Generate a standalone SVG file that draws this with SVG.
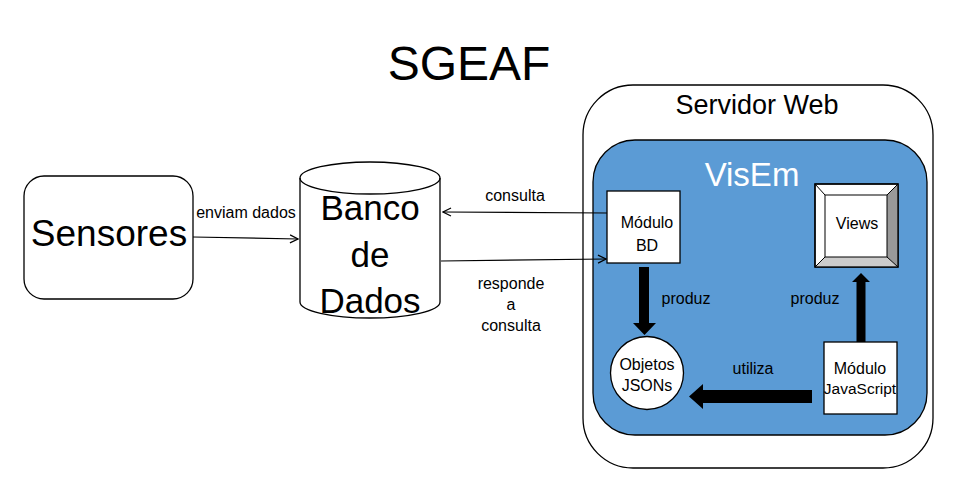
<svg xmlns="http://www.w3.org/2000/svg" width="954" height="493" viewBox="0 0 954 493">
<defs>
<marker id="open" viewBox="0 0 10 10" refX="9" refY="5" markerWidth="10" markerHeight="10" markerUnits="userSpaceOnUse" orient="auto">
<path d="M1,1 L9,5 L1,9" fill="none" stroke="#000" stroke-width="1.2"/>
</marker>
<style>
text{font-family:"Liberation Sans",Arial,sans-serif;fill:#000;text-anchor:middle}
.sm{font-size:16px}
.ln{fill:none;stroke:#000;stroke-width:1.2}
.box{fill:#fff;stroke:#000;stroke-width:1.3}
.thick{fill:#000}
</style>
</defs>
<rect width="954" height="493" fill="#fff"/>
<text x="469" y="80" style="font-size:48px">SGEAF</text>

<g id="sensores">
<rect x="24" y="176" width="169" height="123" rx="20" class="box"/>
<text x="109" y="246" style="font-size:37px">Sensores</text>
</g>

<g id="banco">
<path d="M300,178 L300,302 A70,16 0 0 0 440,302 L440,178 A70,16 0 0 0 300,178 Z" class="box"/>
<path d="M300,178 A70,16 0 0 0 440,178" fill="none" stroke="#000" stroke-width="1.3"/>
<text x="370" y="220" style="font-size:35px">Banco</text>
<text x="370" y="267" style="font-size:35px">de</text>
<text x="370" y="313" style="font-size:35px">Dados</text>
</g>

<g id="servidor">
<rect x="583" y="85" width="350" height="383" rx="50" class="box"/>
<text x="757" y="114" style="font-size:27px">Servidor Web</text>
</g>

<g id="visem">
<rect x="593" y="140" width="334" height="295" rx="42" fill="#5B9BD5" stroke="#000" stroke-width="1.3"/>
<text x="752" y="186" style="font-size:33px;fill:#fff">VisEm</text>
</g>

<g id="modulo-bd">
<rect x="607" y="191" width="73" height="72" class="box"/>
<text x="647" y="228" class="sm">Módulo</text>
<text x="647" y="251" class="sm">BD</text>
</g>

<g id="views">
<rect x="815" y="184" width="83" height="83" fill="#fff" stroke="#000" stroke-width="1.3"/>
<polygon points="887,195 898,184 898,267 887,257" fill="#999"/>
<polygon points="825,257 887,257 898,267 815,267" fill="#ccc"/>
<path d="M815,184 L825,195 M898,184 L887,195 M815,267 L825,257 M898,267 L887,257" stroke="#000" stroke-width="1"/>
<rect x="825" y="195" width="62" height="62" fill="#fff" stroke="#000" stroke-width="1"/>
<rect x="815" y="184" width="83" height="83" fill="none" stroke="#000" stroke-width="1.3"/>
<text x="857" y="229" class="sm">Views</text>
</g>

<g id="objetos">
<circle cx="647" cy="373" r="36.5" class="box"/>
<text x="647" y="370" class="sm">Objetos</text>
<text x="647" y="391" class="sm">JSONs</text>
</g>

<g id="modulo-js">
<rect x="824" y="342" width="73" height="72" class="box"/>
<text x="860" y="374" class="sm">Módulo</text>
<text x="860" y="394" style="font-size:15.5px">JavaScript</text>
</g>

<g id="connectors">
<line x1="193" y1="237" x2="298" y2="239" class="ln" marker-end="url(#open)"/>
<text x="246" y="218" class="sm">enviam dados</text>
<line x1="607" y1="213" x2="443" y2="212" class="ln" marker-end="url(#open)"/>
<text x="515" y="201" class="sm">consulta</text>
<line x1="441" y1="261" x2="606" y2="259" class="ln" marker-end="url(#open)"/>
<text x="511" y="289" class="sm">responde</text>
<text x="511" y="310" class="sm">a</text>
<text x="511" y="331" class="sm">consulta</text>
<polygon points="639,267 649,267 649,323 656,323 644.5,335 633,323 639,323" class="thick"/>
<text x="686" y="304" class="sm">produz</text>
<polygon points="856.5,342 865.5,342 865.5,282 870,282 861,273 852,282 856.5,282" class="thick"/>
<text x="815" y="304" class="sm">produz</text>
<polygon points="812,390 812,403 703,403 703,409 689,396.5 703,384 703,390" class="thick"/>
<text x="753" y="374" class="sm">utiliza</text>
</g>
</svg>
